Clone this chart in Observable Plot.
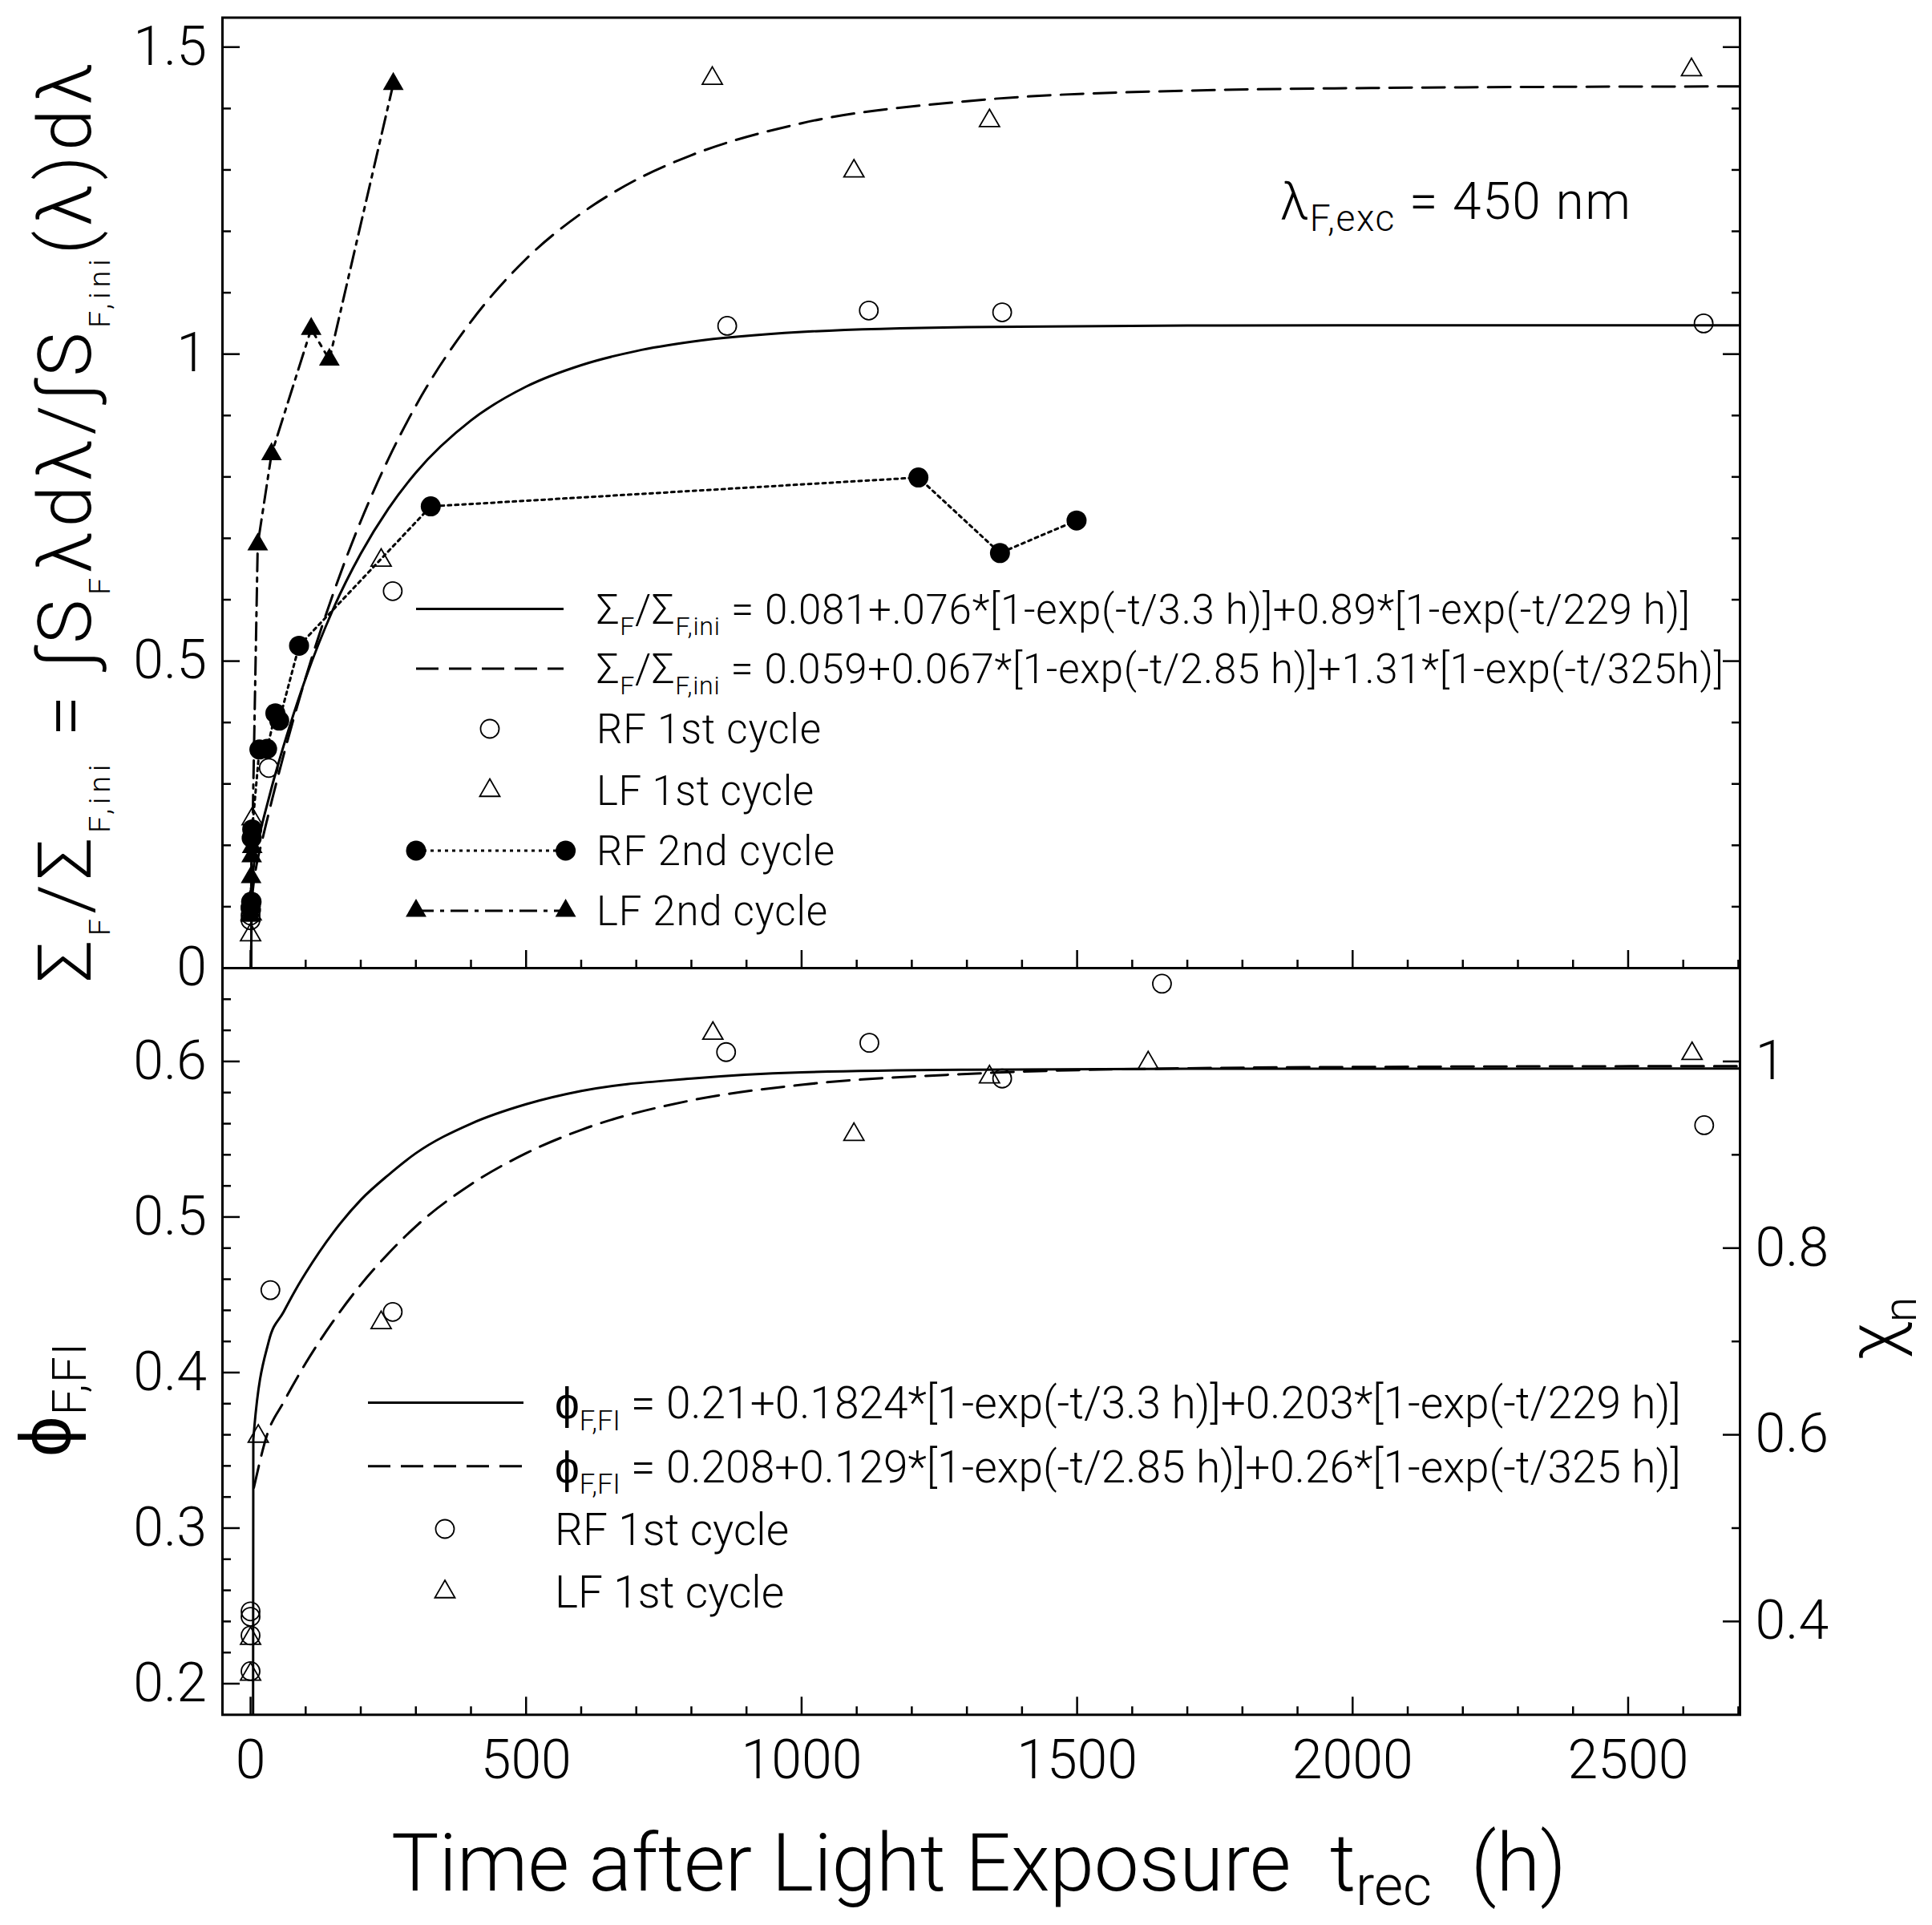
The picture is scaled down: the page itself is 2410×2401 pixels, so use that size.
<!DOCTYPE html>
<html><head><meta charset="utf-8">
<script src="https://cdn.jsdelivr.net/npm/d3@7"></script>
<script src="https://cdn.jsdelivr.net/npm/@observablehq/plot@0.6"></script>
<style>
html,body{margin:0;padding:0;background:#fff;}
#wrap{position:relative;width:2410px;height:2401px;overflow:hidden;background:#fff;}
#top,#bot{position:absolute;left:0;}
#top{top:0;}
#bot{top:1204px;}
</style></head><body><div id="wrap"><div id="top"></div><div id="bot"></div></div>
<script>
const FONT = "Roboto, 'Liberation Sans', Arial, sans-serif";
const FW = 300;

// ---------- tick values ----------
const xMajor = [0, 500, 1000, 1500, 2000, 2500];
const xMinor = [100,200,300,400,600,700,800,900,1100,1200,1300,1400,1600,1700,1800,1900,2100,2200,2300,2400,2600,2700];
const sigmaMajor = [0, 0.5, 1, 1.5];
const sigmaMinor = [0.1,0.2,0.3,0.4,0.6,0.7,0.8,0.9,1.1,1.2,1.3,1.4];
const phiMajor = [0.2, 0.3, 0.4, 0.5, 0.6];
const phiMinor = [0.22,0.24,0.26,0.28,0.32,0.34,0.36,0.38,0.42,0.44,0.46,0.48,0.52,0.54,0.56,0.58,0.62,0.64];
const chiMajor = [0.4, 0.6, 0.8, 1];
const chiMinor = [0.5, 0.7, 0.9];
const phiPerChi = 0.6; // chi_n = phi / 0.6

// ---------- top panel: Sigma_F / Sigma_F,ini ----------
const rf1TopT = [0, 0, 1, 2, 33, 258, 865, 1122, 1364, 2637];
const rf1TopV = [0.078, 0.086, 0.095, 0.108, 0.326, 0.614, 1.046, 1.071, 1.068, 1.050];
const lf1TopT = [0, 1, 3, 237, 838, 1095, 1341, 2615];
const lf1TopV = [0.054, 0.088, 0.243, 0.664, 1.449, 1.298, 1.380, 1.463];
const rf2TopT = [0, 1, 2, 3, 16, 30, 45, 52, 88, 327, 1212, 1360, 1499];
const rf2TopV = [0.098, 0.108, 0.212, 0.226, 0.356, 0.357, 0.415, 0.403, 0.525, 0.752, 0.799, 0.676, 0.729];
const lf2TopT = [0, 0.5, 1, 2, 3, 13, 38, 110, 143, 259];
const lf2TopV = [0.085, 0.110, 0.148, 0.182, 0.197, 0.690, 0.837, 1.041, 0.991, 1.440];
// fitted curves
const fitRfTopT = [1, 2, 5, 10, 20, 30, 40, 55, 70, 100, 150, 200, 250, 300, 400, 500, 600, 700, 800, 1000, 1300, 1700, 2200, 2703];
const fitRfTopV = [0, 0.123, 0.160, 0.191, 0.231, 0.266, 0.300, 0.347, 0.391, 0.472, 0.585, 0.675, 0.748, 0.807, 0.892, 0.947, 0.982, 1.005, 1.020, 1.036, 1.044, 1.0465, 1.047, 1.047];
const fitLfTopT = [1, 2, 5, 10, 20, 30, 40, 55, 70, 100, 150, 200, 250, 300, 400, 500, 600, 700, 800, 1000, 1300, 1700, 2200, 2703];
const fitLfTopV = [0, 0.101, 0.134, 0.164, 0.204, 0.2415, 0.278, 0.330, 0.380, 0.473, 0.610, 0.728, 0.829, 0.916, 1.053, 1.155, 1.229, 1.284, 1.324, 1.376, 1.412, 1.429, 1.4345, 1.436];

// ---------- bottom panel: phi_F,FI ----------
const rf1BotT = [0, 0, 0, 0, 36, 258, 863, 1123, 1364, 1654, 2638];
const rf1BotV = [0.2465, 0.243, 0.231, 0.208, 0.453, 0.439, 0.606, 0.612, 0.589, 0.650, 0.559];
const lf1BotT = [0, 0, 14, 237, 839, 1095, 1341, 1629, 2616];
const lf1BotV = [0.229, 0.206, 0.359, 0.432, 0.618, 0.553, 0.590, 0.599, 0.605];
const fitRfBotT = [4.5, 5, 33, 60, 83, 100, 150, 200, 250, 300, 400, 500, 600, 800, 1000, 1300, 1700, 2703];
const fitRfBotV = [0.15, 0.357, 0.420, 0.439, 0.454, 0.464, 0.490, 0.511, 0.527, 0.541, 0.560, 0.5725, 0.581, 0.589, 0.593, 0.5947, 0.5953, 0.5954];
const fitLfBotT = [6, 30, 60, 100, 150, 200, 250, 300, 400, 500, 600, 800, 1000, 1300, 1700, 2200, 2703];
const fitLfBotV = [0.326, 0.360, 0.381, 0.406, 0.433, 0.4565, 0.4765, 0.494, 0.521, 0.541, 0.556, 0.575, 0.585, 0.592, 0.5956, 0.5967, 0.597];

// ---------- texts ----------
const topYLabel = ["Σ", {sub:"F"}, "/Σ", {sub:"F,ini"}, " = ∫S", {sub:"F"}, "λdλ/∫S", {sub:"F,ini"}, "(λ)dλ"];
const botYLabel = ["ϕ", {sub:"F,FI"}];
const rightYLabel = ["χ", {sub:"n"}];
const xLabel = ["Time after Light Exposure  t", {sub:"rec"}, "  (h)"];
const annot = ["λ", {sub:"F,exc"}, " = 450 nm"];
const topLegend = [
  ["Σ", {sub:"F"}, "/Σ", {sub:"F,ini"}, " = 0.081+.076*[1-exp(-t/3.3 h)]+0.89*[1-exp(-t/229 h)]"],
  ["Σ", {sub:"F"}, "/Σ", {sub:"F,ini"}, " = 0.059+0.067*[1-exp(-t/2.85 h)]+1.31*[1-exp(-t/325h)]"],
  ["RF 1st cycle"], ["LF 1st cycle"], ["RF 2nd cycle"], ["LF 2nd cycle"]
];
const botLegend = [
  ["ϕ", {sub:"F,FI"}, " = 0.21+0.1824*[1-exp(-t/3.3 h)]+0.203*[1-exp(-t/229 h)]"],
  ["ϕ", {sub:"F,FI"}, " = 0.208+0.129*[1-exp(-t/2.85 h)]+0.26*[1-exp(-t/325 h)]"],
  ["RF 1st cycle"], ["LF 1st cycle"]
];

// ---------- styles ----------
const DASH = "28,13", DOT = "4,5", DASHDOT = "22,8,5,8";
const R_OPEN = 11.5, R_FILL = 12.5, R_TRI = 9.3, R_TRIF = 9.6;
const TICK_FONT = 68;

const pts = (t, v) => t.map((d, i) => ({t: d, v: v[i]}));
const xDomain = [-51, 2703];
const tickStyle = {fill: "none", strokeWidth: 2.5, label: null};
const labelStyle = {tickSize: 0, fontSize: TICK_FONT, label: null};

function openCircles(data){ return Plot.dot(data, {x:"t", y:"v", r:R_OPEN, stroke:"black", strokeWidth:1.8, fill:"none"}); }
function openTris(data){ return Plot.dot(data, {x:"t", y:"v", symbol:"triangle", r:R_TRI, stroke:"black", strokeWidth:1.8, fill:"none"}); }

const topPlot = Plot.plot({
  width: 2410, height: 1210,
  marginLeft: 277, marginRight: 240, marginTop: 21.5, marginBottom: 3,
  style: {fontFamily: FONT, fontWeight: FW, background: "transparent", overflow: "visible", color: "black"},
  x: {domain: xDomain, label: null},
  y: {domain: [0, 1.548], label: null},
  marks: [
    Plot.axisX(xMinor, {anchor:"bottom", tickSize:-10, ...tickStyle}),
    Plot.axisX(xMajor, {anchor:"bottom", tickSize:-22, ...tickStyle}),
    Plot.axisY(sigmaMinor, {anchor:"left", tickSize:-11, ...tickStyle}),
    Plot.axisY(sigmaMajor, {anchor:"left", tickSize:-22, ...tickStyle}),
    Plot.axisY(sigmaMinor, {anchor:"right", tickSize:-11, ...tickStyle}),
    Plot.axisY(sigmaMajor, {anchor:"right", tickSize:-22, ...tickStyle}),
    Plot.axisY(sigmaMajor, {anchor:"left", tickPadding:19.5, tickFormat: d => String(d), ...labelStyle}),
    Plot.line(pts(fitRfTopT, fitRfTopV), {x:"t", y:"v", stroke:"black", strokeWidth:3, curve:"monotone-x", clip:true}),
    Plot.line(pts(fitLfTopT, fitLfTopV), {x:"t", y:"v", stroke:"black", strokeWidth:3, strokeDasharray:DASH, curve:"monotone-x", clip:true}),
    Plot.line(pts(rf2TopT, rf2TopV), {x:"t", y:"v", stroke:"black", strokeWidth:3, strokeDasharray:DOT}),
    Plot.line(pts(lf2TopT, lf2TopV), {x:"t", y:"v", stroke:"black", strokeWidth:3, strokeDasharray:DASHDOT}),
    openCircles(pts(rf1TopT, rf1TopV)),
    openTris(pts(lf1TopT, lf1TopV)),
    Plot.dot(pts(rf2TopT, rf2TopV), {x:"t", y:"v", r:R_FILL, fill:"black", stroke:"none"}),
    Plot.dot(pts(lf2TopT, lf2TopV), {x:"t", y:"v", symbol:"triangle", r:R_TRIF, fill:"black", stroke:"none"}),
    Plot.frame({stroke:"black", strokeWidth:3})
  ]
});
document.getElementById("top").append(topPlot);

const fmtChi = d3.format(".2~g");
const botPlot = Plot.plot({
  width: 2410, height: 1030,
  marginLeft: 277, marginRight: 240, marginTop: 3, marginBottom: 95.7,
  style: {fontFamily: FONT, fontWeight: FW, background: "transparent", overflow: "visible", color: "black"},
  x: {domain: xDomain, label: null},
  y: {domain: [0.18, 0.66], label: null},
  marks: [
    Plot.axisX(xMinor, {anchor:"bottom", tickSize:-10, ...tickStyle}),
    Plot.axisX(xMajor, {anchor:"bottom", tickSize:-22, ...tickStyle}),
    Plot.axisX(xMajor, {anchor:"bottom", tickPadding:31, tickFormat: d => String(d), ...labelStyle}),
    Plot.axisY(phiMinor, {anchor:"left", tickSize:-11, ...tickStyle}),
    Plot.axisY(phiMajor, {anchor:"left", tickSize:-22, ...tickStyle}),
    Plot.axisY(phiMajor, {anchor:"left", tickPadding:19.5, tickFormat: d => String(d), ...labelStyle}),
    Plot.axisY(chiMinor.map(c => c * phiPerChi), {anchor:"right", tickSize:-11, ...tickStyle}),
    Plot.axisY(chiMajor.map(c => c * phiPerChi), {anchor:"right", tickSize:-22, ...tickStyle}),
    Plot.axisY(chiMajor.map(c => c * phiPerChi), {anchor:"right", tickPadding:19, tickFormat: d => fmtChi(d / phiPerChi), ...labelStyle}),
    Plot.line(pts(fitRfBotT, fitRfBotV), {x:"t", y:"v", stroke:"black", strokeWidth:3, curve:"monotone-x", clip:true}),
    Plot.line(pts(fitLfBotT, fitLfBotV), {x:"t", y:"v", stroke:"black", strokeWidth:3, strokeDasharray:DASH, curve:"monotone-x", clip:true}),
    openCircles(pts(rf1BotT, rf1BotV)),
    openTris(pts(lf1BotT, lf1BotV)),
    Plot.frame({stroke:"black", strokeWidth:3})
  ]
});
document.getElementById("bot").append(botPlot);

// ---------- overlay: labels, legends, annotation ----------
const ov = d3.select("#wrap").append("svg")
  .attr("width", 2410).attr("height", 2401)
  .style("position", "absolute").style("left", "0px").style("top", "0px").style("overflow", "visible");

function buildText(segs, {x, y, size, anchor, rotate, subScale, subShift}) {
  const t = ov.append("text").attr("x", x).attr("y", y)
    .attr("font-size", size).attr("text-anchor", anchor)
    .attr("font-family", FONT).attr("font-weight", FW).attr("fill", "black")
    .style("white-space", "pre");
  if (rotate) t.attr("transform", `rotate(${rotate},${x},${y})`);
  let shifted = false;
  for (const s of segs) {
    const isSub = typeof s === "object";
    const ts = t.append("tspan").text(isSub ? s.sub : s);
    if (isSub) {
      ts.attr("font-size", size * subScale);
      if (!shifted) { ts.attr("dy", size * subShift); shifted = true; }
    } else if (shifted) { ts.attr("dy", -size * subShift); shifted = false; }
  }
  return t;
}
function richText(segs, {x, y, size, anchor = "start", rotate = 0, length = null, subScale = 0.65, subShift = 0.27}) {
  let t = buildText(segs, {x, y, size, anchor, rotate, subScale, subShift});
  if (length) {
    const natural = t.node().getComputedTextLength();
    if (natural > length * 1.005) {
      // shrink the font rather than squeezing glyphs together
      t.remove();
      t = buildText(segs, {x, y, size: size * length / natural, anchor, rotate, subScale, subShift});
    } else if (natural < length * 0.995) {
      t.attr("textLength", length).attr("lengthAdjust", "spacing");
    }
  }
  return t;
}
function legLine(x1, x2, y, dash) {
  ov.append("line").attr("x1", x1).attr("x2", x2).attr("y1", y).attr("y2", y)
    .attr("stroke", "black").attr("stroke-width", 3).attr("stroke-dasharray", dash || null);
}
function legSym(x, y, type, r, filled) {
  ov.append("path").attr("transform", `translate(${x},${y})`)
    .attr("d", d3.symbol(type, Math.PI * r * r)())
    .attr("fill", filled ? "black" : "none").attr("stroke", filled ? "none" : "black").attr("stroke-width", 1.8);
}

// axis titles
richText(topYLabel, {x: 113, y: 652, size: 93, anchor: "middle", rotate: -90, length: 1146, subScale: 0.4, subShift: 0.26});
richText(botYLabel, {x: 88, y: 1746, size: 90, anchor: "middle", rotate: -90, length: 142, subScale: 0.65, subShift: 0.21});
richText(rightYLabel, {x: 2367, y: 1657, size: 90, anchor: "middle", rotate: -90, length: 79, subScale: 0.65, subShift: 0.26});
richText(xLabel, {x: 488, y: 2358, size: 108, length: 1466, subScale: 0.7, subShift: 0.18});
richText(annot, {x: 1597, y: 273, size: 64, length: 437, subScale: 0.72, subShift: 0.23});

// top legend
const tl = {lineX1: 519, lineX2: 703, symX: 611, pairX2: 705.6, textX: 744, rows: [759.4, 834, 909, 986, 1061, 1136], size: 51,
  lengths: [1364, 1406, 280, 271, 297, 288]};
legLine(tl.lineX1, tl.lineX2, tl.rows[0], null);
legLine(tl.lineX1, tl.lineX2, tl.rows[1], DASH);
legSym(tl.symX, tl.rows[2], d3.symbolCircle, R_OPEN, false);
legSym(tl.symX, tl.rows[3], d3.symbolTriangle, R_TRI, false);
legLine(tl.lineX1, tl.pairX2, tl.rows[4], DOT);
legSym(tl.lineX1, tl.rows[4], d3.symbolCircle, R_FILL, true);
legSym(tl.pairX2, tl.rows[4], d3.symbolCircle, R_FILL, true);
legLine(tl.lineX1, tl.pairX2, tl.rows[5], DASHDOT);
legSym(tl.lineX1, tl.rows[5], d3.symbolTriangle, R_TRIF, true);
legSym(tl.pairX2, tl.rows[5], d3.symbolTriangle, R_TRIF, true);
topLegend.forEach((segs, i) => richText(segs, {x: tl.textX, y: tl.rows[i] + 0.36 * tl.size, size: tl.size, length: tl.lengths[i], subScale: 0.63, subShift: 0.27}));

// bottom legend
const bl = {lineX1: 459, lineX2: 653, symX: 555, textX: 692, rows: [1749.6, 1828.7, 1907, 1985.5], size: 55,
  lengths: [1405, 1405, 293, 286]};
legLine(bl.lineX1, bl.lineX2, bl.rows[0], null);
legLine(bl.lineX1, bl.lineX2, bl.rows[1], DASH);
legSym(bl.symX, bl.rows[2], d3.symbolCircle, R_OPEN, false);
legSym(bl.symX, bl.rows[3], d3.symbolTriangle, R_TRI, false);
botLegend.forEach((segs, i) => richText(segs, {x: bl.textX, y: bl.rows[i] + 0.36 * bl.size, size: bl.size, length: bl.lengths[i], subScale: 0.63, subShift: 0.27}));
</script>
</body></html>
